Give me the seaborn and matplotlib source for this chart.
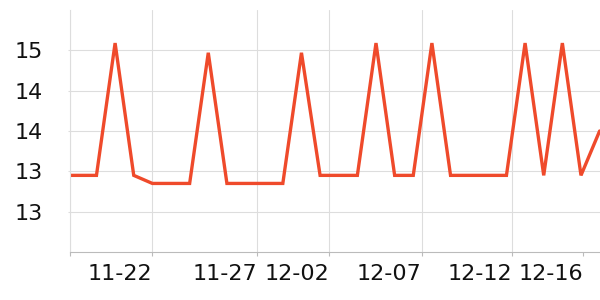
import math
import numpy as np
import pandas as pd
import matplotlib
matplotlib.use("Agg")
import matplotlib.pyplot as plt
from matplotlib.ticker import FuncFormatter
import seaborn as sns

# ---- data ----
dates = ["11-17", "11-18", "11-19", "11-20", "11-21", "11-22", "11-23", "11-24",
         "11-25", "11-26", "11-27", "11-28", "11-29", "11-30", "12-01", "12-02",
         "12-03", "12-04", "12-05", "12-06", "12-07", "12-08", "12-09", "12-10",
         "12-11", "12-12", "12-13", "12-14", "12-15", "12-16"]
values = [13.45, 13.45, 13.45, 15.09, 13.45, 13.35, 13.35, 13.35, 14.97, 13.35,
          13.35, 13.35, 13.35, 14.97, 13.45, 13.45, 13.45, 15.09, 13.45, 13.45,
          15.09, 13.45, 13.45, 13.45, 13.45, 15.09, 13.45, 15.09, 13.45, 14.00]
xtick_labels = ["", "11-22", "11-27", "12-02", "12-07", "12-12", "12-16"]
ytick_values = [13.0, 13.5, 14.0, 14.5, 15.0]

df = pd.DataFrame({"day": np.arange(len(dates)), "date": dates, "value": values})

sns.set_theme(style="white")
plt.rcParams["font.family"] = ["DejaVu Sans"]

fig = plt.figure(figsize=(6, 3), dpi=100)
ax = fig.add_axes([70 / 600, 48 / 300, 530 / 600, 242 / 300])

sns.lineplot(data=df, x="day", y="value", ax=ax, color="#EF4A2B", linewidth=2.4)
for ln in ax.get_lines():
    ln.set_solid_joinstyle("miter")

ax.set_xlim(0.58, 29.02)
ax.set_ylim(12.5, 15.5)

xtick_pos = [0.58, 5.0, 10.63, 14.5, 19.45, 24.29, 28.1]
ax.set_xticks(xtick_pos)
ax.set_xticklabels(xtick_labels, ha="right")
ax.set_yticks(ytick_values)
ax.yaxis.set_major_formatter(FuncFormatter(lambda v, p: str(int(math.floor(v + 1e-9)))))

ax.grid(True, color="#dddddd", linewidth=0.8)
gl = ax.get_xgridlines()
gl[-1].set_visible(False)
ax.xaxis.get_major_ticks()[-1].tick1line.set_visible(False)

for s in ["top", "right"]:
    ax.spines[s].set_visible(False)
ax.spines["left"].set_color("#dddddd")
ax.spines["left"].set_linewidth(0.8)
ax.spines["bottom"].set_color("#bbbbbb")
ax.spines["bottom"].set_linewidth(0.8)

ax.tick_params(axis="x", bottom=True, length=3, width=0.8, color="#bbbbbb",
               labelsize=16, pad=6, labelcolor="#111111")
ax.tick_params(axis="y", left=True, length=1.5, width=0.8, color="#dddddd",
               labelsize=16, pad=18, labelcolor="#111111")
ax.set_xlabel("")
ax.set_ylabel("")

fig.savefig("out.png", dpi=100)
